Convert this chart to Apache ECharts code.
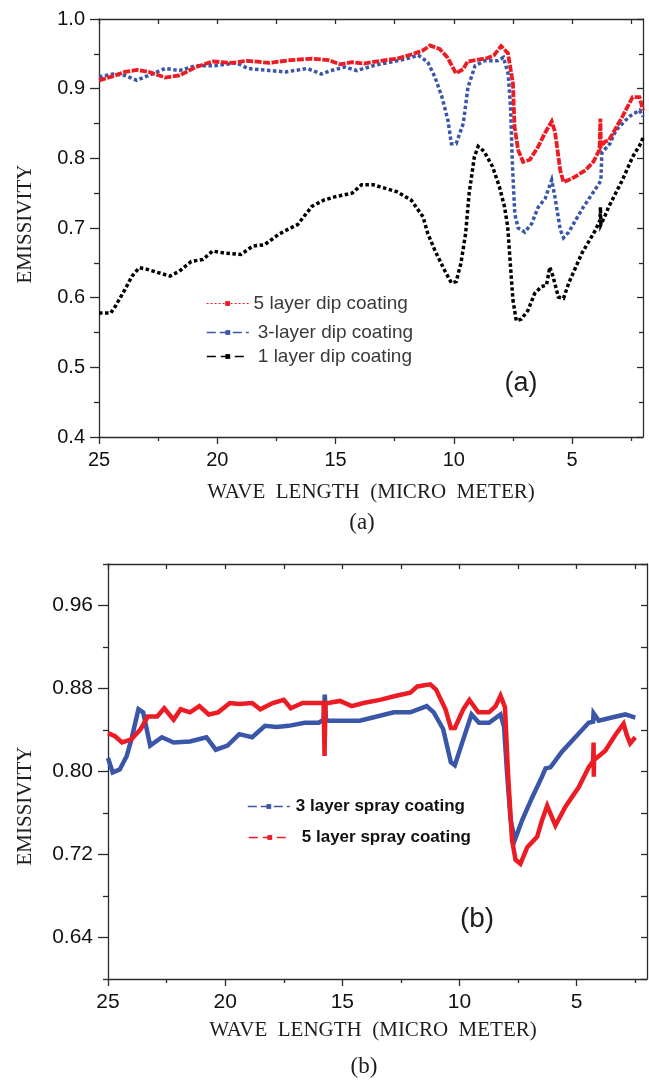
<!DOCTYPE html>
<html><head><meta charset="utf-8">
<script src="https://cdn.jsdelivr.net/npm/echarts@6/dist/echarts.min.js"></script>
<style>html,body{margin:0;padding:0;background:#fff}#c{width:649px;height:1080px}</style>
</head><body><div id="c"></div>
<script>
// ---------- tick values ----------
const xMajor = [25, 20, 15, 10, 5];
const xMinor = [22.5, 17.5, 12.5, 7.5, 2.5];
const xAll = [25, 22.5, 20, 17.5, 15, 12.5, 10, 7.5, 5, 2.5];
const yLabelsB = [0.64, 0.72, 0.80, 0.88, 0.96];
const yMinorB = [0.60, 0.68, 0.76, 0.84, 0.92, 1.00];
const yAllB = [0.60, 0.64, 0.68, 0.72, 0.76, 0.80, 0.84, 0.88, 0.92, 0.96, 1.00];

// ---------- series names ----------
const namesA = ['5 layer dip coating', '3-layer dip coating', '1 layer dip coating'];
const namesB = ['3 layer spray coating', '5 layer spray coating'];

// ---------- data: [wavelength (µm), emissivity] ----------
const dip5 = [[25,0.912],[24.4,0.918],[23.9,0.924],[23.4,0.927],[22.9,0.924],[22.2,0.916],[21.6,0.919],[20.9,0.931],[20.2,0.939],[19.4,0.937],[18.7,0.940],[17.8,0.937],[16.9,0.941],[16.0,0.943],[15.3,0.941],[14.8,0.935],[14.3,0.938],[13.8,0.936],[13.1,0.940],[12.4,0.943],[11.7,0.950],[11.3,0.955],[11.0,0.962],[10.6,0.957],[10.27,0.945],[9.91,0.922],[9.6,0.928],[9.42,0.939],[8.57,0.944],[8.3,0.948],[8.0,0.961],[7.71,0.951],[7.5,0.908],[7.43,0.845],[7.28,0.812],[7.07,0.795],[6.78,0.798],[6.43,0.817],[6.15,0.836],[5.86,0.853],[5.72,0.838],[5.5,0.783],[5.36,0.766],[5.0,0.771],[4.43,0.783],[4.1,0.795],[3.84,0.812],[3.8,0.857],[3.78,0.817],[3.6,0.824],[3.44,0.826],[2.87,0.860],[2.44,0.888],[2.15,0.888],[2.0,0.869]];
const dip3 = [[25,0.917],[24.4,0.921],[23.9,0.919],[23.4,0.912],[22.9,0.919],[22.2,0.929],[21.6,0.926],[20.9,0.933],[20.1,0.933],[19.2,0.937],[18.7,0.929],[17.8,0.926],[17.1,0.924],[16.2,0.929],[15.6,0.921],[15.2,0.926],[14.6,0.931],[14.1,0.926],[13.4,0.933],[12.7,0.938],[12.0,0.943],[11.5,0.948],[11.1,0.938],[10.8,0.917],[10.5,0.888],[10.25,0.855],[10.1,0.821],[9.9,0.821],[9.6,0.850],[9.4,0.902],[9.1,0.933],[8.7,0.940],[8.15,0.940],[7.9,0.945],[7.7,0.921],[7.6,0.874],[7.52,0.790],[7.42,0.720],[7.28,0.700],[7.0,0.694],[6.71,0.706],[6.43,0.730],[6.14,0.742],[5.86,0.769],[5.71,0.742],[5.5,0.698],[5.36,0.686],[5.14,0.694],[4.58,0.727],[4.01,0.756],[3.78,0.768],[3.74,0.808],[3.4,0.821],[3.15,0.840],[2.58,0.860],[2.15,0.869],[2.0,0.860]];
const dip1 = [[25,0.578],[24.5,0.578],[24.3,0.588],[23.9,0.612],[23.6,0.631],[23.3,0.643],[23.0,0.641],[22.5,0.636],[22.0,0.631],[21.6,0.638],[21.1,0.652],[20.6,0.655],[20.2,0.667],[19.7,0.664],[19.0,0.662],[18.5,0.674],[18.0,0.676],[17.4,0.691],[16.9,0.700],[16.6,0.705],[16.0,0.731],[15.5,0.740],[15.0,0.745],[14.3,0.750],[13.9,0.762],[13.4,0.762],[13.1,0.759],[12.4,0.752],[11.8,0.740],[11.3,0.716],[11.1,0.692],[10.8,0.668],[10.4,0.640],[10.1,0.621],[9.9,0.623],[9.7,0.649],[9.5,0.692],[9.35,0.750],[9.13,0.802],[8.97,0.817],[8.72,0.810],[8.36,0.788],[8.07,0.759],[7.86,0.731],[7.72,0.702],[7.6,0.644],[7.5,0.597],[7.36,0.567],[7.15,0.569],[6.86,0.582],[6.58,0.606],[6.29,0.616],[6.08,0.618],[5.94,0.644],[5.8,0.630],[5.58,0.601],[5.36,0.599],[5.14,0.621],[4.58,0.664],[4.01,0.697],[3.82,0.711],[3.8,0.730],[3.78,0.705],[3.6,0.718],[3.44,0.731],[2.87,0.769],[2.44,0.802],[2.08,0.822],[2.0,0.830]];
const spray3 = [[25,0.813],[24.8,0.799],[24.5,0.802],[24.2,0.815],[24.0,0.831],[23.7,0.860],[23.5,0.857],[23.2,0.825],[22.7,0.833],[22.2,0.828],[21.5,0.829],[20.8,0.833],[20.4,0.821],[19.9,0.825],[19.4,0.836],[18.85,0.833],[18.3,0.844],[17.8,0.843],[17.3,0.844],[16.6,0.847],[16.0,0.847],[15.8,0.850],[15.75,0.874],[15.7,0.850],[15.6,0.849],[14.96,0.849],[14.26,0.849],[13.7,0.852],[12.8,0.857],[12.1,0.857],[11.4,0.863],[11.1,0.857],[10.7,0.841],[10.37,0.809],[10.2,0.806],[9.84,0.831],[9.49,0.855],[9.17,0.847],[8.74,0.847],[8.25,0.855],[8.1,0.843],[7.97,0.798],[7.82,0.753],[7.64,0.734],[7.33,0.753],[6.9,0.775],[6.48,0.795],[6.33,0.803],[6.12,0.804],[5.63,0.819],[5.06,0.833],[4.49,0.847],[4.3,0.848],[4.28,0.856],[4.06,0.849],[3.5,0.852],[2.93,0.855],[2.5,0.852]];
const spray5 = [[25,0.837],[24.7,0.834],[24.4,0.828],[24.0,0.831],[23.6,0.841],[23.3,0.853],[22.9,0.853],[22.6,0.861],[22.2,0.850],[21.9,0.860],[21.5,0.857],[21.1,0.863],[20.7,0.855],[20.3,0.857],[19.8,0.866],[19.4,0.865],[18.85,0.866],[18.5,0.860],[17.97,0.866],[17.5,0.869],[17.2,0.861],[16.7,0.866],[16.0,0.866],[15.8,0.866],[15.76,0.815],[15.72,0.866],[15.6,0.866],[15.1,0.868],[14.6,0.863],[14.1,0.866],[13.4,0.869],[12.7,0.873],[12.1,0.876],[11.8,0.882],[11.25,0.884],[11.0,0.879],[10.6,0.860],[10.37,0.842],[10.2,0.842],[9.84,0.860],[9.58,0.869],[9.2,0.857],[8.74,0.857],[8.46,0.863],[8.25,0.873],[8.06,0.862],[7.93,0.798],[7.76,0.734],[7.61,0.715],[7.4,0.711],[7.11,0.727],[6.69,0.737],[6.48,0.753],[6.26,0.767],[5.91,0.748],[5.48,0.766],[4.91,0.785],[4.49,0.804],[4.3,0.810],[4.28,0.828],[4.27,0.795],[4.26,0.811],[3.78,0.820],[3.36,0.835],[3.0,0.846],[2.86,0.835],[2.72,0.827],[2.5,0.833]];

// ---------- styling ----------
const SANS = "'Liberation Sans', Arial, sans-serif";
const SERIF = "'Liberation Serif', 'Times New Roman', serif";
const AX = { color: '#2b2b2b', width: 1.3 };
const RED = '#ec1c24', BLUE = '#3a56a8', BLACK = '#000000';

function xAxesFor(g, fs) {
  const base = { gridIndex: g, type: 'value', min: 2, max: 25, inverse: true, splitLine: { show: false } };
  return [
    Object.assign({}, base, { position: 'bottom',
      axisLine: { show: true, onZero: false, lineStyle: AX },
      axisTick: { show: true, inside: false, length: 7, lineStyle: AX, customValues: xMajor },
      axisLabel: { show: true, customValues: xMajor, fontFamily: SANS, fontSize: fs, color: '#111', margin: 13 } }),
    Object.assign({}, base, { position: 'bottom',
      axisLine: { show: false, onZero: false },
      axisTick: { show: true, inside: false, length: 4, lineStyle: AX, customValues: xMinor },
      axisLabel: { show: false } }),
    Object.assign({}, base, { position: 'top',
      axisLine: { show: true, onZero: false, lineStyle: AX },
      axisTick: { show: true, inside: true, length: 5, lineStyle: AX, customValues: xAll },
      axisLabel: { show: false } })
  ];
}

const yAxes = [
  // grid 0
  { gridIndex: 0, type: 'value', min: 0.4, max: 1.0, interval: 0.1, position: 'left', splitLine: { show: false },
    axisLine: { show: true, onZero: false, lineStyle: AX },
    axisTick: { show: true, inside: false, length: 9, lineStyle: AX },
    minorTick: { show: true, splitNumber: 2, length: 5, lineStyle: AX },
    axisLabel: { fontFamily: SANS, fontSize: 20, color: '#111', margin: 14, formatter: v => v.toFixed(1) } },
  { gridIndex: 0, type: 'value', min: 0.4, max: 1.0, interval: 0.1, position: 'right', splitLine: { show: false },
    axisLine: { show: true, onZero: false, lineStyle: AX },
    axisTick: { show: true, inside: true, length: 6, lineStyle: AX },
    minorTick: { show: true, splitNumber: 2, length: 4, lineStyle: AX },
    axisLabel: { show: false } },
  // grid 1
  { gridIndex: 1, type: 'value', min: 0.6, max: 1.0, position: 'left', splitLine: { show: false },
    axisLine: { show: true, onZero: false, lineStyle: AX },
    axisTick: { show: true, inside: false, length: 10, lineStyle: AX, customValues: yLabelsB },
    axisLabel: { customValues: yLabelsB, fontFamily: SANS, fontSize: 21, color: '#111', margin: 15, formatter: v => v.toFixed(2) } },
  { gridIndex: 1, type: 'value', min: 0.6, max: 1.0, position: 'left', splitLine: { show: false },
    axisLine: { show: false, onZero: false },
    axisTick: { show: true, inside: false, length: 5, lineStyle: AX, customValues: yMinorB },
    axisLabel: { show: false } },
  { gridIndex: 1, type: 'value', min: 0.6, max: 1.0, position: 'right', splitLine: { show: false },
    axisLine: { show: true, onZero: false, lineStyle: AX },
    axisTick: { show: true, inside: true, length: 6, lineStyle: AX, customValues: yAllB },
    axisLabel: { show: false } }
];

function lineSeries(name, data, color, xi, yi, width, type) {
  return { name, type: 'line', data, xAxisIndex: xi, yAxisIndex: yi, symbol: 'rect', showSymbol: false,
    color, itemStyle: { color }, lineStyle: { color, width, type, cap: 'butt', join: 'miter' },
    animation: false, silent: true };
}

function legendFor(name, left, top, fs, bold, lineStyle, textPad) {
  return { data: [{ name, lineStyle }], left, top, padding: 0, itemWidth: 42, itemHeight: 6,
    selectedMode: false,
    textStyle: { fontFamily: SANS, fontSize: fs, fontWeight: bold ? 'bold' : 'normal', color: bold ? '#111' : '#3a3a3a', padding: [0, 0, 0, textPad] } };
}

const graphicTexts = [
  { x: 25, y: 224, rot: Math.PI / 2, text: 'EMISSIVITY', font: '21px ' + SERIF },
  { x: 371, y: 492, rot: 0, text: 'WAVE  LENGTH  (MICRO  METER)', font: '21px ' + SERIF },
  { x: 362, y: 523, rot: 0, text: '(a)', font: '23px ' + SERIF },
  { x: 521, y: 384, rot: 0, text: '(a)', font: '27px ' + SANS },
  { x: 25, y: 806, rot: Math.PI / 2, text: 'EMISSIVITY', font: '21px ' + SERIF },
  { x: 373, y: 1030, rot: 0, text: 'WAVE  LENGTH  (MICRO  METER)', font: '21px ' + SERIF },
  { x: 364, y: 1067, rot: 0, text: '(b)', font: '23px ' + SERIF },
  { x: 477, y: 919, rot: 0, text: '(b)', font: '28px ' + SANS }
];

const option = {
  animation: false,
  backgroundColor: '#ffffff',
  grid: [
    { left: 99, top: 19, width: 544, height: 418 },
    { left: 108, top: 564, width: 539, height: 415 }
  ],
  xAxis: xAxesFor(0, 20).concat(xAxesFor(1, 21)),
  yAxis: yAxes,
  legend: [
    legendFor(namesA[0], 206, 294, 19, false, { type: [2, 2], width: 1.2 }, 0),
    legendFor(namesA[1], 206, 323, 19, false, { type: [9, 4], width: 1.6 }, 4),
    legendFor(namesA[2], 206, 347, 19, false, { type: [9, 5], width: 1.6 }, 4),
    legendFor(namesB[0], 247, 798, 17, true, { type: [9, 4], width: 1.6 }, 1),
    legendFor(namesB[1], 248, 829, 17, true, { type: [9, 5], width: 1.6 }, 6)
  ],
  series: [
    lineSeries(namesA[2], dip1, BLACK, 0, 0, 3.5, [3.5, 2.5]),
    lineSeries(namesA[1], dip3, BLUE, 0, 0, 3.5, [3.5, 2.5]),
    lineSeries(namesA[0], dip5, RED, 0, 0, 3.8, [7, 1.5]),
    lineSeries(namesB[0], spray3, BLUE, 3, 2, 4.5, 'solid'),
    lineSeries(namesB[1], spray5, RED, 3, 2, 4.5, 'solid')
  ],
  graphic: graphicTexts.map(t => ({
    type: 'text', x: t.x, y: t.y, rotation: t.rot, silent: true,
    style: { text: t.text, font: t.font, fill: '#1e1e1e', textAlign: 'center', textVerticalAlign: 'middle' }
  }))
};

const chart = echarts.init(document.getElementById('c'), null, { renderer: 'canvas' });
chart.setOption(option);
</script>
</body></html>
